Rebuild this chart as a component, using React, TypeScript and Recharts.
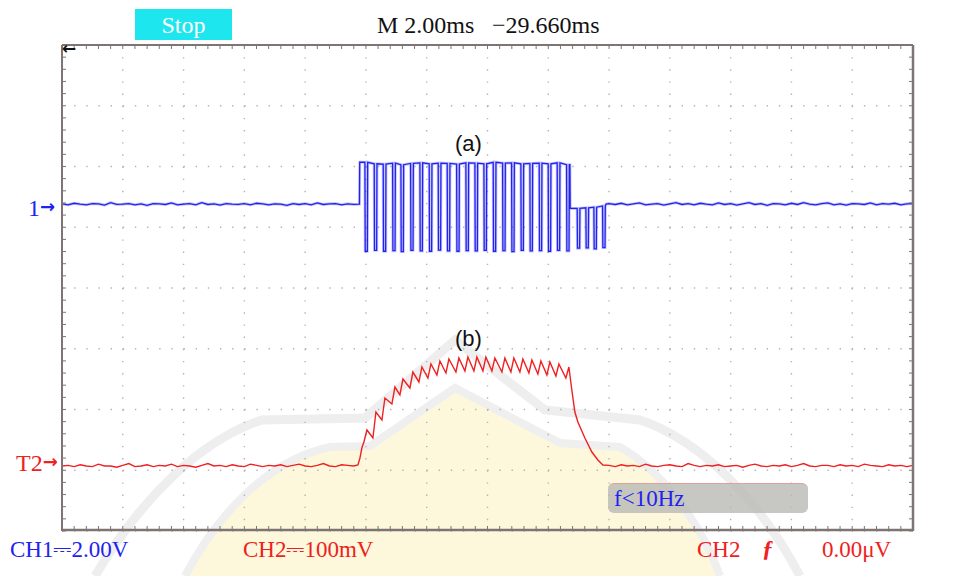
import { LineChart, Line, XAxis, YAxis, CartesianGrid } from "recharts";

// scope screen: 14 x 8 divisions, 2 ms/div, CH1 2 V/div, CH2 100 mV/div
const MS_PER_DIV = 2;
const CH1_V_PER_DIV = 2;
const CH2_MV_PER_DIV = 100;
const DIV_X = 14;
const DIV_Y = 8;
// ground markers ("1→", "T2→"), in divisions above the bottom edge
const CH1_ZERO_DIV = 5.38;
const CH2_ZERO_DIV = 1.07;

const SAMPLE_MS = 0.2;
const POST_START_MS = 18.0;

// CH1 (V) – flat part before / after the burst, one sample every 0.2 ms
const ch1Pre = [
  0.01, -0.02, 0.03, 0.0, -0.02, 0.02, 0.01, -0.03, 0.05, -0.01,
  0.0, 0.02, -0.02, 0.01, -0.04, 0.02, 0.01, -0.01, 0.04, -0.02,
  0.0, 0.02, -0.02, 0.05, -0.01, 0.01, -0.03, 0.02, 0.0, -0.01,
  0.02, -0.02, 0.03, 0.01, -0.02, 0.01, 0.0, -0.04, 0.02, -0.01,
  0.02, -0.02, 0.04, -0.01, 0.01, 0.02, -0.02, 0.01, -0.01,
];
const ch1Post = [
  0.02, -0.01, 0.03, -0.02, 0.01, 0.04, -0.02, 0.0, 0.02, -0.03,
  0.01, 0.05, -0.01, 0.02, -0.02, 0.03, 0.0, -0.02, 0.04, -0.01,
  0.02, -0.03, 0.01, 0.05, -0.01, 0.02, -0.04, 0.02, 0.01, -0.02,
  0.03, -0.01, 0.05, 0.0, -0.02, 0.02, 0.04, -0.02, 0.01, -0.03,
  0.02, 0.01, -0.01, 0.04, -0.02, 0.02, 0.0, 0.03, -0.02, 0.01, 0.02,
];

// CH1 pulse burst
const trainStart = 9.786;
const trainEnd = 16.711;
const tailEnd = 17.9;
const PULSE_MS = 0.08;
const pulseTimes = [
  9.967, 10.273, 10.569, 10.878, 11.151, 11.47, 11.776, 12.082, 12.378, 12.674,
  12.984, 13.289, 13.586, 13.882, 14.188, 14.497, 14.793, 15.099, 15.395, 15.701,
  15.997, 16.293, 16.602,
];
const pulseHigh = [
  1.38, 1.33, 1.32, 1.35, 1.3, 1.34, 1.36, 1.33, 1.35, 1.34,
  1.32, 1.36, 1.35, 1.33, 1.38, 1.35, 1.36, 1.33, 1.34, 1.35,
  1.33, 1.36, 1.3,
];
const pulseLow = [
  -1.55, -1.52, -1.55, -1.53, -1.56, -1.52, -1.54, -1.55, -1.51, -1.54,
  -1.55, -1.53, -1.54, -1.52, -1.55, -1.53, -1.56, -1.52, -1.54, -1.53,
  -1.55, -1.52, -1.54,
];
const tailTimes = [16.951, 17.237, 17.5, 17.786];
const tailHigh = [-0.14, -0.12, -0.1, -0.06];
const tailLow = [-1.45, -1.44, -1.47, -1.43];

// CH2 (mV)
const ch2Pre = [
  0, 1, -1, 2, 0, -1, 3, 0, 0, -2,
  1, 4, -1, 0, 2, -1, 1, 0, 3, -1,
  1, 0, -2, 1, 4, 0, 1, -1, 2, 0,
  -1, 3, 1, -1, 1, 0, 2, -1, 1, 3,
  0, -1, 1, 4, 0, -1, 2, 1, 0,
];
const ch2Post = [
  1, -1, 2, 0, 1, -1, 3, 0, -1, 1,
  2, 0, -1, 4, 1, -1, 1, 0, 2, -1,
  0, 1, -2, 1, 3, 0, -1, 1, 0, 2,
  -1, 1, 4, 0, -1, 1, 1, -1, 2, 0,
  1, -1, 3, 1, 0, -1, 2, 0, 1, -1, 1,
];
// ramp up with ripple, plateau, decay: [ms, mV]
const ch2Hump: [number, number][] = [
  [9.737, 1.6], [9.803, 13], [9.868, 30], [9.934, 39.5],
  [10.033, 59.3], [10.23, 46.1], [10.329, 88.9], [10.526, 75.7],
  [10.625, 111.9], [10.855, 102.1], [10.954, 130.0], [11.118, 116.9],
  [11.217, 143.2], [11.447, 128.4], [11.546, 154.7], [11.743, 138.3],
  [11.842, 163.0], [12.039, 144.8], [12.138, 167.9], [12.336, 149.8],
  [12.434, 172.8], [12.632, 153.1], [12.73, 176.1], [12.961, 154.7],
  [13.059, 177.8], [13.257, 156.4], [13.355, 179.4], [13.553, 156.4],
  [13.651, 179.4], [13.849, 156.4], [13.947, 179.4], [14.145, 156.4],
  [14.243, 177.8], [14.474, 154.7], [14.572, 177.8], [14.77, 154.7],
  [14.868, 177.8], [15.066, 154.7], [15.164, 176.1], [15.362, 153.1],
  [15.461, 174.5], [15.658, 151.4], [15.757, 172.8], [15.954, 149.8],
  [16.053, 171.2], [16.25, 148.1], [16.349, 167.9], [16.579, 144.8],
  [16.678, 163.0], [16.766, 128.4], [16.875, 88.9], [16.974, 72.4],
  [17.204, 46.1], [17.434, 23.0], [17.632, 9.9], [17.796, 1.6],
];

const sampled = (start: number, vals: number[]) =>
  vals.map((v, i) => ({ t: +(start + i * SAMPLE_MS).toFixed(2), v }));

const pulse = (p: number, hi: number, lo: number) => [
  { t: p, v: hi },
  { t: p + 0.01, v: lo },
  { t: p + PULSE_MS, v: lo },
  { t: p + PULSE_MS + 0.01, v: hi },
];

const ch1Data = [
  ...sampled(0, ch1Pre),
  { t: trainStart, v: 0 },
  { t: trainStart + 0.01, v: pulseHigh[0] },
  ...pulseTimes.flatMap((p, i) => pulse(p, pulseHigh[i], pulseLow[i])),
  { t: trainEnd, v: pulseHigh[pulseHigh.length - 1] },
  { t: trainEnd + 0.01, v: tailHigh[0] },
  ...tailTimes.flatMap((p, i) => pulse(p, tailHigh[i], tailLow[i])),
  { t: tailEnd, v: 0 },
  ...sampled(POST_START_MS, ch1Post),
];

const ch2Data = [
  ...sampled(0, ch2Pre),
  ...ch2Hump.map(([t, v]) => ({ t, v })),
  ...sampled(POST_START_MS, ch2Post),
];

const xMax = DIV_X * MS_PER_DIV;
const ch1Domain = [-CH1_ZERO_DIV * CH1_V_PER_DIV, (DIV_Y - CH1_ZERO_DIV) * CH1_V_PER_DIV];
const ch2Domain = [-CH2_ZERO_DIV * CH2_MV_PER_DIV, (DIV_Y - CH2_ZERO_DIV) * CH2_MV_PER_DIV];

// screen corners, only so the frame / grid axes have something to scale
const screenCorners = [
  { t: 0, v: 0 },
  { t: xMax, v: DIV_Y },
];

const xMinor = Array.from({ length: DIV_X * 5 + 1 }, (_, i) => +(i * MS_PER_DIV / 5).toFixed(2));
const yMinor = Array.from({ length: DIV_Y * 5 + 1 }, (_, i) => +(i / 5).toFixed(2));
const xGrid = Array.from({ length: DIV_X - 1 }, (_, i) => (i + 1) * MS_PER_DIV);
const yGrid = Array.from({ length: DIV_Y - 1 }, (_, i) => i + 1);

const BLUE = "#2222f0";
const RED = "#f02020";
const FRAME = "#7f7474";
const DOTS = "#b4b4b4";
const serif = "'Liberation Serif', 'DejaVu Serif', serif";
const arrowFont = "'DejaVu Sans', sans-serif";
const blank = () => "";

const abs = (left: number, top: number, extra: React.CSSProperties = {}): React.CSSProperties => ({
  position: "absolute",
  left,
  top,
  lineHeight: 1,
  whiteSpace: "nowrap",
  fontFamily: serif,
  ...extra,
});

const frameAxis = {
  interval: 0 as const,
  mirror: true,
  tickFormatter: blank,
  tickSize: 4,
  tickLine: { stroke: FRAME },
};

const gridAxis = {
  interval: 0 as const,
  mirror: true,
  tickFormatter: blank,
  tickLine: false,
  axisLine: false,
};

const anchorLine = {
  data: screenCorners,
  dataKey: "v",
  stroke: "none",
  dot: false,
  activeDot: false,
  legendType: "none" as const,
  isAnimationActive: false,
};

// faint seal watermark from the source document
function Watermark() {
  return (
    <svg width={960} height={576} style={{ position: "absolute", left: 0, top: 0 }}>
      <path
        d="M 185 576 C 220 510, 270 460, 330 447 L 370 446 L 455 388 L 560 443 L 620 447 C 660 470, 700 520, 720 576 Z"
        fill="#fdf8dc"
      />
      <path
        d="M 95 576 C 140 500, 200 440, 262 420 L 365 418 L 455 340 L 545 410 L 640 420 C 700 440, 760 500, 800 576"
        fill="none"
        stroke="#eeeeee"
        strokeWidth={9}
      />
      <path
        d="M 185 576 C 220 510, 270 460, 330 447 L 370 446 L 455 388 L 560 443 L 620 447 C 660 470, 700 520, 720 576"
        fill="none"
        stroke="#efefef"
        strokeWidth={8}
      />
    </svg>
  );
}

export default function App() {
  return (
    <div style={{ position: "fixed", left: 0, top: 0, width: 960, height: 576, background: "#fff", overflow: "hidden" }}>
      <Watermark />
      <LineChart
        width={960}
        height={576}
        margin={{ top: 45, right: 47, bottom: 45, left: 62 }}
        style={{ position: "absolute", left: 0, top: 0 }}
      >
        {/* division grid axes (no visible line) */}
        <XAxis xAxisId="gx" dataKey="t" type="number" domain={[0, xMax]} ticks={xGrid} height={1} {...gridAxis} />
        <YAxis yAxisId="gy" type="number" domain={[0, DIV_Y]} ticks={yGrid} width={1} {...gridAxis} />
        <CartesianGrid
          xAxisId="gx"
          yAxisId="gy"
          stroke={DOTS}
          strokeWidth={1.4}
          strokeDasharray="1.4 10.75"
        />

        {/* frame with minor ticks */}
        <XAxis
          xAxisId="t"
          dataKey="t"
          type="number"
          domain={[0, xMax]}
          ticks={xMinor}
          allowDataOverflow
          height={1}
          axisLine={{ stroke: FRAME, strokeWidth: 2.5 }}
          {...frameAxis}
        />
        <XAxis
          xAxisId="top"
          dataKey="t"
          orientation="top"
          type="number"
          domain={[0, xMax]}
          ticks={xMinor}
          allowDataOverflow
          height={1}
          axisLine={{ stroke: FRAME, strokeWidth: 2 }}
          {...frameAxis}
        />
        <YAxis
          yAxisId="div"
          type="number"
          domain={[0, DIV_Y]}
          ticks={yMinor}
          width={1}
          axisLine={{ stroke: FRAME, strokeWidth: 2 }}
          {...frameAxis}
        />
        <YAxis
          yAxisId="divR"
          orientation="right"
          type="number"
          domain={[0, DIV_Y]}
          ticks={yMinor}
          width={1}
          axisLine={{ stroke: FRAME, strokeWidth: 2.5 }}
          {...frameAxis}
        />
        <YAxis yAxisId="ch1" type="number" domain={ch1Domain} allowDataOverflow hide />
        <YAxis yAxisId="ch2" type="number" domain={ch2Domain} allowDataOverflow hide />

        <Line xAxisId="gx" yAxisId="gy" {...anchorLine} />
        <Line xAxisId="top" yAxisId="div" {...anchorLine} />
        <Line xAxisId="t" yAxisId="divR" {...anchorLine} />

        <Line
          xAxisId="t"
          yAxisId="ch1"
          data={ch1Data}
          dataKey="v"
          type="linear"
          stroke={BLUE}
          strokeOpacity={0.25}
          strokeWidth={3}
          dot={false}
          activeDot={false}
          isAnimationActive={false}
        />
        <Line
          xAxisId="t"
          yAxisId="ch1"
          data={ch1Data}
          dataKey="v"
          type="linear"
          stroke={BLUE}
          strokeWidth={1.3}
          dot={false}
          activeDot={false}
          isAnimationActive={false}
        />
        <Line
          xAxisId="t"
          yAxisId="ch2"
          data={ch2Data}
          dataKey="v"
          type="linear"
          stroke={RED}
          strokeWidth={1.4}
          dot={false}
          activeDot={false}
          isAnimationActive={false}
        />
      </LineChart>

      {/* status bar */}
      <div
        style={abs(135, 9, {
          width: 97,
          height: 31,
          background: "#1ee6ee",
          color: "#ffffff",
          fontSize: 24,
          display: "flex",
          alignItems: "center",
          justifyContent: "center",
        })}
      >
        Stop
      </div>
      <div style={abs(377, 13, { fontSize: 24, color: "#111" })}>M 2.00ms</div>
      <div style={abs(492, 13, { fontSize: 24, color: "#111" })}>−29.660ms</div>

      {/* trigger position marker */}
      <div style={abs(62, 40, { fontSize: 17, color: "#111", fontFamily: arrowFont, fontWeight: "bold" })}>←</div>

      {/* channel markers */}
      <div style={abs(28, 196, { fontSize: 24, color: BLUE })}>
        1<span style={{ fontFamily: arrowFont, fontSize: 18, fontWeight: "bold", verticalAlign: 3 }}>→</span>
      </div>
      <div style={abs(16, 451, { fontSize: 24, color: RED })}>
        T2<span style={{ fontFamily: arrowFont, fontSize: 18, fontWeight: "bold", verticalAlign: 3 }}>→</span>
      </div>

      {/* trace labels */}
      <div style={abs(455, 133, { fontSize: 22, color: "#111", fontFamily: "'Liberation Sans', Arial, sans-serif" })}>(a)</div>
      <div style={abs(455, 328, { fontSize: 22, color: "#111", fontFamily: "'Liberation Sans', Arial, sans-serif" })}>(b)</div>

      {/* frequency readout */}
      <div
        style={abs(608, 483, {
          width: 200,
          height: 30,
          borderRadius: 6,
          background: "rgba(185,185,180,0.8)",
          borderTop: "1px solid #e0a0a0",
          boxSizing: "border-box",
        })}
      />
      <div style={abs(614, 487, { fontSize: 23, color: BLUE })}>f&lt;10Hz</div>

      {/* bottom status line */}
      <div style={abs(10, 538, { fontSize: 23, color: BLUE })}>CH1⎓2.00V</div>
      <div style={abs(243, 538, { fontSize: 23, color: RED })}>CH2⎓100mV</div>
      <div style={abs(697, 538, { fontSize: 23, color: RED })}>CH2</div>
      <div style={abs(762, 537, { fontSize: 23, color: RED, fontWeight: "bold", fontStyle: "italic" })}>ƒ</div>
      <div style={abs(822, 538, { fontSize: 23, color: RED })}>0.00μV</div>
    </div>
  );
}
